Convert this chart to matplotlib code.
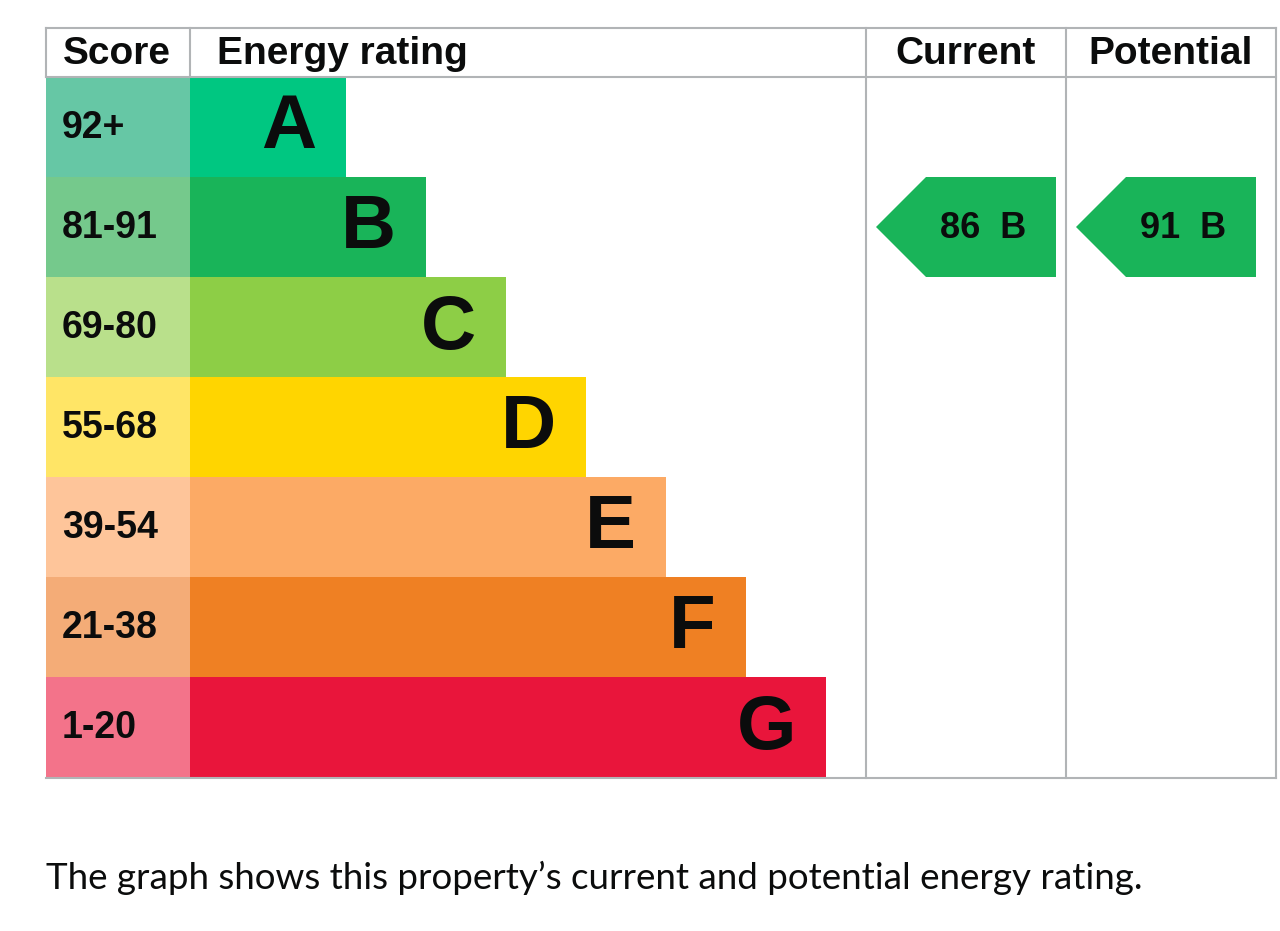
import numpy as np
import matplotlib
matplotlib.use('Agg')
import matplotlib.pyplot as plt
from matplotlib.patches import Polygon

bands = ['A', 'B', 'C', 'D', 'E', 'F', 'G']
score_ranges = ['92+', '81-91', '69-80', '55-68', '39-54', '21-38', '1-20']
band_lows = [92, 81, 69, 55, 39, 21, 1]
bar_colors = ['#00c781', '#19b459', '#8dce46', '#ffd500', '#fcaa65', '#ef8023', '#e9153b']
score_colors = ['#66c7a5', '#75c98c', '#b9e08b', '#ffe566', '#fec59a', '#f4ac77', '#f3738a']
current_score = 86
potential_score = 91
caption = 'The graph shows this property\u2019s current and potential energy rating.'

# layout in pixels
W, H = 1280, 931
left, score_w, right = 46, 144, 1276
top, head_h, row_h = 28, 49, 100
cur_x, pot_x = 866, 1066
bar_x = left + score_w
bar_base, bar_step = 156, 80
grid = '#b1b4b6'
bold = ['Liberation Sans', 'DejaVu Sans']


def band_index(score):
    for i, lo in enumerate(band_lows):
        if score >= lo:
            return i
    return len(bands) - 1


def draw_arrow(ax, col_x, score):
    i = band_index(score)
    y0 = top + head_h + row_h * i
    tip = col_x + 10
    rx = col_x + 190
    pts = [(tip, y0 + row_h / 2), (tip + 50, y0), (rx, y0), (rx, y0 + row_h), (tip + 50, y0 + row_h)]
    ax.add_patch(Polygon(pts, closed=True, facecolor=bar_colors[i], edgecolor='none'))
    ax.text(rx - 30, y0 + row_h / 2 + 1, f'{score}  {bands[i]}', ha='right', va='center',
            fontsize=26, fontweight='bold', family=bold, color='#0b0c0c')


fig = plt.figure(figsize=(W / 100, H / 100), dpi=100)
ax = fig.add_axes([0, 0, 1, 1])
ax.set_xlim(0, W)
ax.set_ylim(H, 0)
ax.axis('off')

n = len(bands)
ys = top + head_h + row_h * np.arange(n) + row_h / 2
widths = bar_base + bar_step * np.arange(n)

ax.barh(ys, [score_w] * n, height=row_h, left=left, color=score_colors, linewidth=0)
ax.barh(ys, widths, height=row_h, left=bar_x, color=bar_colors, linewidth=0)

for y, w, b, s in zip(ys, widths, bands, score_ranges):
    ax.text(left + 16, y + 1, s, ha='left', va='center', fontsize=27,
            fontweight='bold', family=bold, color='#0b0c0c')
    ax.text(bar_x + w - 30, y + 2, b, ha='right', va='center', fontsize=55,
            fontweight='bold', family=bold, color='#0b0c0c')

# header
hy = top + head_h / 2 + 2
ax.text(left + 17, hy, 'Score', ha='left', va='center', fontsize=28, fontweight='bold', family=bold, color='#0b0c0c')
ax.text(bar_x + 27, hy, 'Energy rating', ha='left', va='center', fontsize=28, fontweight='bold', family=bold, color='#0b0c0c')
ax.text((cur_x + pot_x) / 2, hy, 'Current', ha='center', va='center', fontsize=28, fontweight='bold', family=bold, color='#0b0c0c')
ax.text((pot_x + right) / 2, hy, 'Potential', ha='center', va='center', fontsize=28, fontweight='bold', family=bold, color='#0b0c0c')

# grid lines
bottom = top + head_h + row_h * n + 1
lw = 1.5
ax.plot([left, right], [top, top], color=grid, lw=lw)
ax.plot([left, right], [top + head_h, top + head_h], color=grid, lw=lw)
ax.plot([left, right], [bottom, bottom], color=grid, lw=lw)
ax.plot([left, left], [top, top + head_h], color=grid, lw=lw)
ax.plot([bar_x, bar_x], [top, top + head_h], color=grid, lw=lw)
for x in (cur_x, pot_x, right):
    ax.plot([x, x], [top, bottom], color=grid, lw=lw)

draw_arrow(ax, cur_x, current_score)
draw_arrow(ax, pot_x, potential_score)

ax.text(left, 878, caption, ha='left', va='center', fontsize=26.5, family=['Lato', 'DejaVu Sans'], color='#0b0c0c')

fig.savefig('out.png', dpi=100)
